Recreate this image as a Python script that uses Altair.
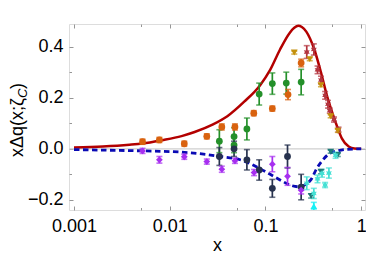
import math
import altair as alt
import pandas as pd

# ---------------- data ----------------
red_x = [0.001, 0.002, 0.0038, 0.0052, 0.0083, 0.0133, 0.0182, 0.028, 0.04, 0.06, 0.088,
         0.112, 0.142, 0.179, 0.2, 0.22, 0.24, 0.267, 0.324, 0.38, 0.44, 0.5, 0.56, 0.63,
         0.74, 0.85, 1.0]
red_y = [0.005, 0.009, 0.016, 0.021, 0.034, 0.05, 0.066, 0.095, 0.128, 0.185, 0.25,
         0.31, 0.39, 0.455, 0.475, 0.483, 0.478, 0.46, 0.39, 0.30, 0.207, 0.141, 0.088, 0.04,
         0.009, 0.001, 0.0]

blue_x = [0.001, 0.002, 0.0052, 0.0133, 0.034, 0.06, 0.085, 0.112, 0.147, 0.18, 0.228,
          0.267, 0.30, 0.34, 0.395, 0.46, 0.56, 0.7, 1.0]
blue_y = [-0.003, -0.005, -0.008, -0.013, -0.030, -0.048, -0.075, -0.100, -0.125, -0.142,
          -0.149, -0.138, -0.12, -0.080, -0.045, -0.020, -0.008, -0.002, 0.0]

orange_x = [0.0052, 0.0078, 0.0142, 0.0244, 0.035, 0.048, 0.0755, 0.118, 0.172, 0.236]
orange_y = [0.028, 0.035, 0.020, 0.049, 0.086, 0.086, 0.140, 0.158, 0.213, 0.337]
orange_e = [0.010, 0.010, 0.010, 0.010, 0.012, 0.012, 0.010, 0.010, 0.020, 0.015]

green_x = [0.033, 0.047, 0.047, 0.064, 0.086, 0.118, 0.165, 0.236]
green_y = [0.030, 0.048, 0.015, 0.078, 0.215, 0.256, 0.258, 0.262]
green_e = [0.045, 0.035, 0.030, 0.043, 0.043, 0.042, 0.043, 0.050]

navy_x = [0.033, 0.047, 0.064, 0.086, 0.118, 0.170, 0.236]
navy_y = [-0.030, 0.000, -0.043, -0.083, -0.155, -0.030, -0.150]
navy_e = [0.035, 0.030, 0.040, 0.040, 0.035, 0.045, 0.050]

purple_x = [0.0052, 0.0078, 0.0142, 0.0244, 0.035, 0.048, 0.076, 0.118, 0.170, 0.236]
purple_y = [-0.008, -0.043, -0.031, -0.050, -0.080, -0.047, -0.093, -0.060, -0.108, -0.162]
purple_e = [0.010, 0.013, 0.010, 0.010, 0.012, 0.010, 0.012, 0.030, 0.035, 0.015]

brown_x = [0.27, 0.32, 0.35, 0.38, 0.42, 0.45, 0.47, 0.52, 0.58]
brown_y = [0.38, 0.39, 0.31, 0.27, 0.21, 0.175, 0.15, 0.115, 0.075]
brown_e = [0.025, 0.022, 0.015, 0.015, 0.015, 0.015, 0.010, 0.010, 0.010]

gold_x = [0.20, 0.29, 0.38, 0.48, 0.57]
gold_y = [0.378, 0.352, 0.25, 0.128, 0.071]
gold_e = [0.006, 0.006, 0.006, 0.006, 0.006]

teal_x = [0.30, 0.38, 0.48, 0.57]
teal_y = [-0.185, -0.090, -0.011, -0.024]
teal_e = [0.008, 0.008, 0.006, 0.006]

turq_x = [0.27, 0.32, 0.35, 0.39, 0.42, 0.46, 0.54]
turq_y = [-0.135, -0.175, -0.118, -0.096, -0.142, -0.095, -0.025]
turq_e = [0.025, 0.020, 0.015, 0.015, 0.010, 0.020, 0.012]

cyan_x = [0.32]
cyan_y = [-0.225]
cyan_e = [0.015]

x_ticks = [0.001, 0.005, 0.01, 0.05, 0.1, 0.5, 1]
y_ticks = [-0.2, -0.1, 0.0, 0.1, 0.2, 0.3, 0.4]

# ---------------- styles ----------------
def star_path(n, r_in):
    pts = []
    for k in range(2 * n):
        r = 1.0 if k % 2 == 0 else r_in
        a = math.pi / 2 + k * math.pi / n
        pts.append(f"{r*math.cos(a):.3f},{-r*math.sin(a):.3f}")
    return "M" + "L".join(pts) + "Z"

STAR = star_path(6, 0.55)

series = [
    ("orange", orange_x, orange_y, orange_e, "#d9620f", "circle"),
    ("green", green_x, green_y, green_e, "#24902a", "circle"),
    ("navy", navy_x, navy_y, navy_e, "#27324e", "circle"),
    ("purple", purple_x, purple_y, purple_e, "#a72ff0", "diamond"),
    ("brown", brown_x, brown_y, brown_e, "#b3343e", STAR),
    ("gold", gold_x, gold_y, gold_e, "#c4900c", "triangle-down"),
    ("teal", teal_x, teal_y, teal_e, "#1f7a78", "triangle-down"),
    ("turq", turq_x, turq_y, turq_e, "#45e0d4", STAR),
    ("cyan", cyan_x, cyan_y, cyan_e, "#16f0f5", "triangle-up"),
]

rows = []
for name, xs, ys, es, _, _ in series:
    for xv, yv, ev in zip(xs, ys, es):
        rows.append({"x": xv, "y": yv, "lo": yv - ev, "hi": yv + ev, "set": name})
pts = pd.DataFrame(rows)
names = [s[0] for s in series]
color_scale = alt.Scale(domain=names, range=[s[4] for s in series])
shape_scale = alt.Scale(domain=names, range=[s[5] for s in series])

curves = pd.concat([
    pd.DataFrame({"x": red_x, "y": red_y, "c": "red"}),
    pd.DataFrame({"x": blue_x, "y": blue_y, "c": "blue"}),
])

FONT = "Liberation Sans"
GRAY = "#969696"
xscale = alt.Scale(type="log", domain=[0.000887, 1.096], nice=False)
yscale = alt.Scale(domain=[-0.24, 0.49], nice=False, zero=False)

x_minor = "datum.value == 0.005 || datum.value == 0.05 || datum.value == 0.5"
y_minor = "abs(round(datum.value * 10)) % 2 == 1"

x_axis = alt.Axis(
    values=x_ticks,
    labelExpr="(" + x_minor + ") ? '' : format(datum.value, '~g')",
    tickSize={"condition": {"test": x_minor, "value": -2.5}, "value": -4},
    tickColor=GRAY, tickWidth=1, domain=False, grid=False,
    labelFont=FONT, labelFontSize=18, labelColor="black", labelPadding=11,
    labelFlush=False,
    title="x", titleFont=FONT, titleFontSize=18, titleFontWeight="normal",
    titleColor="black", titlePadding=1,
)
y_axis = alt.Axis(
    values=y_ticks,
    labelExpr="(" + y_minor + ") ? '' : format(datum.value, '.1f')",
    tickSize={"condition": {"test": y_minor, "value": -2.5}, "value": -4},
    tickColor=GRAY, tickWidth=1, domain=False, grid=False,
    labelFont=FONT, labelFontSize=18, labelColor="black", labelPadding=10,
    labelFlush=False, title=None,
)
top_axis = alt.Axis(
    orient="top", values=x_ticks, labels=False, title=None,
    tickSize={"condition": {"test": x_minor, "value": -2.5}, "value": -4},
    tickColor=GRAY, tickWidth=1, domain=False, grid=False,
)
right_axis = alt.Axis(
    orient="right", values=y_ticks, labels=False, title=None,
    tickSize={"condition": {"test": y_minor, "value": -2.5}, "value": -4},
    tickColor=GRAY, tickWidth=1, domain=False, grid=False,
)

X = alt.X("x:Q", scale=xscale, axis=x_axis)

zero = alt.Chart(pd.DataFrame({"y": [0.0]})).mark_rule(color="#cfcfcf", strokeWidth=1.2).encode(
    y=alt.Y("y:Q", scale=yscale, axis=y_axis)
)

red = alt.Chart(curves).transform_filter("datum.c == 'red'").mark_line(
    color="#b30000", strokeWidth=2.5, interpolate="monotone"
).encode(x=X, y=alt.Y("y:Q", scale=yscale, axis=y_axis))

blue = alt.Chart(curves).transform_filter("datum.c == 'blue'").mark_line(
    color="#0a0ab4", strokeWidth=2.8, strokeDash=[5.5, 3.5], interpolate="monotone"
).encode(x=X, y=alt.Y("y:Q", scale=yscale, axis=y_axis))

col = alt.Color("set:N", scale=color_scale, legend=None)
bars = alt.Chart(pts).mark_rule(strokeWidth=1.7, clip=True).encode(
    x=X, y=alt.Y("lo:Q", scale=yscale, axis=y_axis), y2="hi:Q", color=col
)
cap_lo = alt.Chart(pts).mark_tick(orient="horizontal", size=6, thickness=1.6, clip=True).encode(
    x=X, y=alt.Y("lo:Q", scale=yscale, axis=y_axis), color=col
)
cap_hi = alt.Chart(pts).mark_tick(orient="horizontal", size=6, thickness=1.6, clip=True).encode(
    x=X, y=alt.Y("hi:Q", scale=yscale, axis=y_axis), color=col
)
dots = alt.Chart(pts).mark_point(filled=True, opacity=1, size=46, clip=True).encode(
    x=X, y=alt.Y("y:Q", scale=yscale, axis=y_axis), color=col,
    shape=alt.Shape("set:N", scale=shape_scale, legend=None),
)

TX, TY = -46, 133
t_main = alt.Chart(pd.DataFrame({"t": ["xΔq(x;ζ"]})).mark_text(
    angle=270, align="left", baseline="alphabetic", font=FONT, fontSize=18, color="black"
).encode(text="t:N", x=alt.value(TX), y=alt.value(TY))
t_sub = alt.Chart(pd.DataFrame({"t": ["C"]})).mark_text(
    angle=270, align="left", baseline="alphabetic", font=FONT, fontSize=13, fontStyle="italic",
    color="black", dx=59, dy=4
).encode(text="t:N", x=alt.value(TX), y=alt.value(TY))
t_close = alt.Chart(pd.DataFrame({"t": [")"]})).mark_text(
    angle=270, align="left", baseline="alphabetic", font=FONT, fontSize=18, color="black", dx=68
).encode(text="t:N", x=alt.value(TX), y=alt.value(TY))

main = alt.layer(zero, red, blue, bars, cap_lo, cap_hi, dots, t_main, t_sub, t_close)

mirror = alt.Chart(pd.DataFrame({"x": [0.01], "y": [0.0]})).mark_point(opacity=0).encode(
    x=alt.X("x:Q", scale=xscale, axis=top_axis),
    y=alt.Y("y:Q", scale=yscale, axis=right_axis),
)

chart = alt.layer(main, mirror).resolve_axis(x="independent", y="independent").properties(
    width=296, height=186,
    autosize=alt.AutoSizeParams(type="none"),
    padding={"left": 61, "top": 16, "right": 1, "bottom": 45},
).configure_view(stroke=GRAY, strokeWidth=1.5).configure(background="white")

chart.save("out.html", embed_options={"renderer": "svg", "actions": False})
